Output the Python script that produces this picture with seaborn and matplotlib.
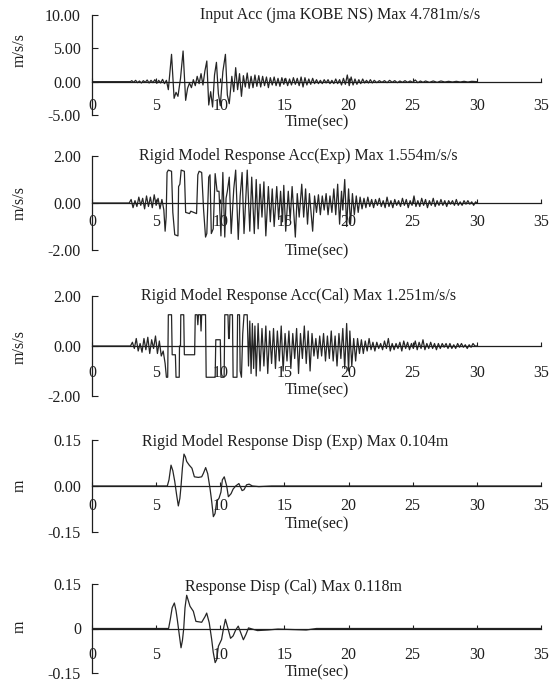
import numpy as np
import matplotlib
matplotlib.use("Agg")
import matplotlib.pyplot as plt
import seaborn as sns

# ---- data ----
# Input Acc (jma KOBE NS), m/s/s
t_in = [0.0, 3.0, 3.1, 3.25, 3.4, 3.55, 3.7, 3.85, 4.0, 4.15, 4.3, 4.45, 4.6, 4.75, 4.9, 5.05,
        5.2, 5.35, 5.5, 5.65, 5.8, 5.95, 6.2, 6.4, 6.55, 6.7, 6.9, 7.1, 7.3, 7.45, 7.6, 7.75,
        7.9, 8.05, 8.2, 8.35, 8.5, 8.65, 8.8, 8.95, 9.1, 9.25, 9.4, 9.55, 9.7, 9.85, 10.0, 10.2,
        10.4, 10.55, 10.7, 10.9, 11.05, 11.2, 11.35, 11.5, 11.65, 11.8, 11.95, 12.1, 12.25, 12.4,
        12.55, 12.7, 12.85, 13.0, 13.15, 13.3, 13.45, 13.6, 13.75, 13.9, 14.05, 14.2, 14.35, 14.5,
        14.65, 14.8, 14.95, 15.1, 15.25, 15.4, 15.55, 15.7, 15.85, 16.0, 16.15, 16.3, 16.45, 16.6,
        16.75, 16.9, 17.05, 17.2, 17.35, 17.5, 17.65, 17.8, 17.95, 18.1, 18.25, 18.4, 18.55, 18.7,
        18.85, 19.0, 19.15, 19.3, 19.45, 19.6, 19.75, 19.9, 20.05, 20.2, 20.35, 20.5, 20.65, 20.8,
        20.95, 21.1, 21.25, 21.4, 21.55, 21.7, 21.85, 22.0, 22.2, 22.4, 22.6, 22.8, 23.0, 23.2,
        23.4, 23.6, 23.8, 24.0, 24.2, 24.4, 24.6, 24.8, 25.0, 25.2, 25.4, 25.6, 25.8, 26.0, 26.3,
        26.6, 26.9, 27.2, 27.5, 27.8, 28.1, 28.4, 28.7, 29.0, 29.3, 29.6, 29.9, 30.0]
a_in = [0.0, 0.0, 0.15, -0.1, 0.2, -0.15, 0.1, -0.2, 0.15, -0.1, 0.25, -0.2, 0.2, -0.15, 0.3, -0.25,
        0.2, -0.2, 0.35, -0.3, 0.2, -1.2, 4.1, -2.5, -1.6, -2.2, 0.5, 4.6, -2.8, -1.0, -0.2, -0.9,
        0.3, -0.6, 0.8, -0.3, 1.2, -0.5, 1.6, 3.1, -3.5, -1.5, -3.8, 1.0, 2.9, -1.8, -3.6, 1.5,
        4.1, -2.0, -3.3, 0.8, -1.5, 2.1, -1.2, 1.2, -2.2, 0.9, -0.8, 1.3, -1.0, 0.8,
        -0.9, 1.0, -0.7, 0.9, -0.8, 0.8, -0.6, 0.7, -0.9, 0.6, -0.5, 0.7, -0.6, 0.5,
        -0.7, 0.6, -0.4, 0.5, -0.6, 0.4, -0.5, 0.6, -0.4, 0.5, -0.6, 0.7, -0.8, 0.6,
        -0.5, 0.4, -0.4, 0.5, -0.3, 0.3, -0.3, 0.2, -0.3, 0.3, -0.2, 0.3, -0.3, 0.2,
        -0.3, 0.4, -0.3, 0.3, -0.5, 0.5, -0.4, 1.0, -0.6, 0.7, -0.5, 0.4, -0.4, 0.3,
        -0.3, 0.4, -0.2, 0.2, -0.2, 0.3, -0.2, 0.2, -0.15, 0.15, -0.1, 0.15, -0.15, 0.2,
        -0.1, 0.15, -0.15, 0.1, -0.1, 0.15, -0.1, 0.1, -0.1, 0.25, -0.15, 0.1, -0.1, 0.1, -0.1,
        0.1, -0.1, 0.1, -0.05, 0.05, -0.05, 0.05, -0.05, 0.05, -0.05, 0.05, 0.0, 0.0]

# Rigid Model Response Acc (Exp), m/s/s
t_exp = [0.0, 2.9, 3.05, 3.2, 3.35, 3.5, 3.65, 3.8, 3.95, 4.1, 4.25, 4.4, 4.55, 4.7, 4.85, 5.0,
         5.15, 5.3, 5.45, 5.6, 5.7, 5.78, 5.85, 5.95, 6.2, 6.3, 6.45, 6.7, 6.75, 6.85, 6.95, 7.2,
         7.3, 7.6, 7.7, 8.15, 8.25, 8.35, 8.55, 8.7, 8.85, 8.95, 9.1, 9.2, 9.3, 9.45, 9.6, 9.75,
         9.9, 10.05, 10.2, 10.35, 10.45, 10.55, 10.7, 10.85, 11.05, 11.2, 11.4, 11.55, 11.7, 11.85,
         12.1, 12.3, 12.45, 12.65, 12.8, 12.95, 13.1, 13.25, 13.4, 13.55, 13.75, 13.9, 14.05, 14.2,
         14.4, 14.55, 14.7, 14.85, 14.95, 15.1, 15.3, 15.45, 15.6, 15.85, 16.0, 16.15, 16.35, 16.5,
         16.65, 16.8, 16.95, 17.2, 17.35, 17.5, 17.65, 17.8, 17.95, 18.1, 18.25, 18.4, 18.55, 18.7,
         18.85, 19.0, 19.15, 19.3, 19.45, 19.55, 19.7, 19.85, 20.0, 20.15, 20.3, 20.45, 20.6, 20.75,
         20.9, 21.05, 21.2, 21.35, 21.5, 21.65, 21.8, 21.95, 22.1, 22.25, 22.4, 22.55, 22.7, 22.85,
         23.0, 23.15, 23.3, 23.45, 23.6, 23.75, 23.9, 24.05, 24.2, 24.35, 24.5, 24.65, 24.8, 24.95,
         25.1, 25.25, 25.4, 25.55, 25.7, 25.85, 26.0, 26.15, 26.3, 26.45, 26.6, 26.75, 26.9, 27.05,
         27.2, 27.35, 27.5, 27.65, 27.8, 27.95, 28.1, 28.25, 28.4, 28.55, 28.7, 28.85, 29.0, 29.15,
         29.3, 29.45, 29.6, 29.75, 29.9, 30.0]
a_exp = [0.0, 0.0, 0.15, -0.2, 0.1, -0.15, 0.25, -0.1, 0.2, -0.25, 0.3, -0.15, 0.25, -0.2, 0.35, -0.1,
         0.2, -0.25, 0.15, -0.3, -1.2, -0.6, 1.3, 1.4, 1.35, -0.4, -1.35, -1.4, 0.7, 0.8, 1.4, 1.35,
         -0.4, -0.45, -0.35, -0.45, 1.2, 1.35, 1.3, -0.3, -1.45, -1.3, 1.1, 1.2, -1.3, -1.1, 1.25, 0.5,
         0.5, -1.4, 1.3, -1.45, 0.2, 0.5, 1.1, -1.3, 0.6, 1.4, -1.55, 0.3, 1.3, -1.3,
         1.4, -1.2, 1.1, -1.3, 1.0, -1.1, 0.8, -0.6, 0.9, -1.4, 0.7, -0.8, 0.6, -1.0,
         0.7, -0.7, 0.5, -0.8, 0.75, -1.2, 0.5, -0.7, 0.7, -1.45, 0.4, -0.6, 0.8, -0.6,
         0.6, -0.9, 0.4, -1.2, 0.3, -0.4, 0.35, -0.5, 0.3, -0.3, 0.4, -0.5, 0.3, -0.4,
         0.6, -0.5, 0.8, -0.9, 0.5, -0.3, 1.0, -1.0, 0.6, -0.9, 0.4, -0.5, 0.3, -0.4,
         0.25, -0.25, 0.2, -0.2, 0.25, -0.15, 0.15, -0.2, 0.15, -0.1, 0.2, -0.15, 0.1, -0.2,
         0.25, -0.15, 0.1, -0.2, 0.15, -0.1, 0.1, -0.15, 0.2, -0.1, 0.15, -0.2, 0.1, -0.1,
         0.3, -0.15, 0.1, -0.15, 0.2, -0.1, 0.15, -0.2, 0.1, -0.1, 0.2, -0.15, 0.1, -0.1,
         0.15, -0.1, 0.1, -0.15, 0.1, -0.05, 0.1, -0.1, 0.15, -0.1, 0.05, -0.1, 0.1, -0.05,
         0.1, -0.05, 0.05, -0.1, 0.05, 0.0]

# Rigid Model Response Acc (Cal), m/s/s
t_cal = [0.0, 3.0, 3.15, 3.3, 3.45, 3.6, 3.75, 3.9, 4.05, 4.2, 4.35, 4.5, 4.65, 4.8, 4.95, 5.1,
         5.25, 5.4, 5.55, 5.7, 5.8, 5.9, 5.95, 6.2, 6.25, 6.5, 6.55, 6.8, 6.82, 6.9, 6.92, 7.15,
         7.2, 8.0, 8.05, 8.2, 8.25, 8.3, 8.45, 8.5, 8.55, 8.85, 8.9, 9.6, 9.65, 10.0, 10.05, 10.3,
         10.35, 10.6, 10.65, 10.7, 10.75, 10.95, 11.0, 11.3, 11.35, 11.5, 11.55, 11.65, 11.75, 11.85,
         12.1, 12.2, 12.3, 12.4, 12.5, 12.6, 12.7, 12.8, 12.95, 13.1, 13.25, 13.4, 13.55, 13.7,
         13.85, 14.0, 14.15, 14.3, 14.45, 14.6, 14.75, 14.9, 15.05, 15.2, 15.35, 15.5, 15.65, 15.8,
         15.95, 16.1, 16.25, 16.4, 16.55, 16.7, 16.85, 17.0, 17.15, 17.3, 17.45, 17.6, 17.75, 17.9,
         18.05, 18.2, 18.35, 18.5, 18.65, 18.8, 18.95, 19.1, 19.25, 19.4, 19.55, 19.7, 19.85, 20.0,
         20.1, 20.25, 20.4, 20.55, 20.7, 20.85, 21.0, 21.15, 21.3, 21.45, 21.6, 21.75, 21.9, 22.05,
         22.2, 22.35, 22.5, 22.65, 22.8, 22.95, 23.1, 23.25, 23.4, 23.55, 23.7, 23.85, 24.0, 24.15,
         24.3, 24.45, 24.6, 24.75, 24.9, 25.05, 25.2, 25.35, 25.5, 25.65, 25.8, 25.95, 26.1, 26.25,
         26.4, 26.55, 26.7, 26.85, 27.0, 27.15, 27.3, 27.45, 27.6, 27.75, 27.9, 28.05, 28.2, 28.35,
         28.5, 28.65, 28.8, 28.95, 29.1, 29.25, 29.4, 29.55, 29.7, 29.85, 30.0]
a_cal = [0.0, 0.0, 0.15, -0.1, 0.3, -0.2, 0.1, -0.25, 0.3, -0.15, 0.35, -0.3, 0.25, -0.1, 0.4, -0.3,
         0.2, -0.4, -0.2, -0.7, -1.25, -1.25, 1.25, 1.25, -0.35, -0.35, -1.25, -1.25, 0.0, 0.0, 1.25, 1.25,
         -0.35, -0.35, 1.25, 1.25, 0.85, 1.25, 1.25, 0.6, 1.25, 1.25, -1.25, -1.25, 0.25, 0.25, -1.25, -1.25,
         1.25, 1.25, 0.3, 0.3, 1.25, 1.25, -1.25, -1.25, 1.25, 1.25, -1.0, -1.25, 0.5, 1.25,
         1.25, -0.8, 1.0, -1.1, 0.9, -0.9, 0.8, -1.2, 0.9, -1.0, 0.7, -0.8, 0.8, -1.1,
         0.6, -0.7, 0.7, -0.9, 0.6, -0.6, 0.8, -1.0, 0.5, -0.6, 0.6, -0.9, 0.5, -0.5,
         0.7, -1.1, 0.5, -0.5, 0.8, -0.7, 0.6, -1.0, 0.5, -0.4, 0.3, -0.5, 0.4, -0.4,
         0.5, -0.6, 0.4, -0.5, 0.6, -0.6, 0.4, -0.8, 0.5, -0.5, 0.7, -0.9, 0.9, -1.0,
         0.6, -0.8, 0.3, -0.6, 0.3, -0.3, 0.25, -0.3, 0.2, -0.2, 0.3, -0.15, 0.15, -0.2,
         0.15, -0.1, 0.1, -0.15, 0.2, -0.1, 0.3, -0.2, 0.1, -0.15, 0.1, -0.1, 0.15, -0.2,
         0.2, -0.1, 0.15, -0.15, 0.1, -0.1, 0.2, -0.15, 0.15, -0.1, 0.25, -0.15, 0.1, -0.1,
         0.15, -0.1, 0.1, -0.15, 0.1, -0.1, 0.1, -0.05, 0.1, -0.1, 0.1, -0.1, 0.05, -0.1,
         0.1, -0.05, 0.1, -0.05, 0.05, -0.1, 0.05, -0.05, 0.1, 0.0, 0.0]

# Rigid Model Response Disp (Exp), m
t_dexp = [0.0, 5.87, 6.0, 6.16, 6.3, 6.45, 6.6, 6.73, 6.85, 6.94, 7.05, 7.17, 7.28, 7.38, 7.58,
          7.79, 7.98, 8.29, 8.55, 8.68, 8.86, 9.02, 9.2, 9.33, 9.46, 9.59, 9.72, 9.9, 10.05, 10.16,
          10.31, 10.5, 10.63, 10.84, 11.0, 11.2, 11.45, 11.7, 11.85, 12.05, 12.25, 12.5, 13.0, 14.0, 35.0]
d_exp = [0.0, 0.0, 0.02, 0.068, 0.05, 0.015, -0.03, -0.065, -0.04, 0.0, 0.06, 0.104, 0.095, 0.08, 0.068,
         0.058, 0.03, 0.028, 0.03, 0.041, 0.06, 0.04, -0.008, -0.05, -0.1, -0.09, -0.05, -0.04, -0.02, 0.02,
         0.03, 0.0, -0.035, -0.025, -0.01, 0.0, 0.008, -0.015, -0.012, 0.004, 0.006, 0.0, -0.002, 0.0, 0.0]

# Response Disp (Cal), m
t_dcal = [0.0, 5.97, 6.1, 6.25, 6.42, 6.55, 6.65, 6.8, 6.94, 7.05, 7.15, 7.25, 7.38, 7.5, 7.64,
          7.9, 8.1, 8.55, 8.81, 8.94, 9.14, 9.33, 9.45, 9.6, 9.72, 9.85, 10.1, 10.25, 10.4, 10.6,
          10.8, 11.0, 11.2, 11.4, 11.6, 11.8, 12.0, 12.2, 12.5, 12.9, 13.7, 14.5, 16.7, 17.5, 35.0]
d_cal = [0.0, 0.0, 0.03, 0.07, 0.086, 0.06, 0.03, -0.02, -0.065, -0.04, 0.0, 0.07, 0.112, 0.095, 0.075,
         0.058, 0.024, 0.021, 0.04, 0.052, 0.019, -0.037, -0.08, -0.115, -0.105, -0.06, -0.037, 0.0, 0.031, 0.0,
         -0.033, -0.025, -0.005, 0.008, -0.015, -0.038, -0.02, 0.002, -0.002, -0.007, -0.005, -0.002, -0.005, 0.0, 0.0]

titles = ["Input Acc (jma KOBE NS) Max 4.781m/s/s",
          "Rigid Model Response Acc(Exp) Max 1.554m/s/s",
          "Rigid Model Response Acc(Cal) Max 1.251m/s/s",
          "Rigid Model Response Disp (Exp) Max 0.104m",
          "Response Disp (Cal) Max 0.118m"]
units = ["m/s/s", "m/s/s", "m/s/s", "m", "m"]
yticks = [[-5, 0, 5, 10], [-2, 0, 2], [-2, 0, 2], [-0.15, 0, 0.15], [-0.15, 0, 0.15]]
ylabels = [["-5.00", "0.00", "5.00", "10.00"], ["-2.00", "0.00", "2.00"], ["-2.00", "0.00", "2.00"],
           ["-0.15", "0.00", "0.15"], ["-0.15", "0", "0.15"]]
xticks = [0, 5, 10, 15, 20, 25, 30, 35]
series = [(t_in, a_in), (t_exp, a_exp), (t_cal, a_cal), (t_dexp, d_exp), (t_dcal, d_cal)]

sns.set_theme(style="white")
plt.rcParams["font.family"] = ["Liberation Serif", "DejaVu Serif"]

fig = plt.figure(figsize=(5.53, 6.84), dpi=100)

# axes boxes in pixels (top, bottom) of the scan
boxes = [(15, 115), (156, 250), (296, 396), (440, 532), (584, 673)]
xpad = [12, 8, 13.5, 9, 13]
xlab_y = [-0.07, -0.01, 0.06, 0.087, 0.011]
ylab_y = [0.65, 0.5, 0.49, 0.5, 0.52]
title_pos = [(0.553, 1.0), (0.459, 1.0), (0.459, 1.0), (0.453, 0.98), (0.449, 0.97)]

W, H = 553, 684
ink = "#1e1e1e"
for i, (t, v) in enumerate(series):
    top, bot = boxes[i]
    ax = fig.add_axes([92 / W, 1 - bot / H, 449 / W, (bot - top) / H])
    sns.lineplot(x=t, y=v, ax=ax, color="#262626", linewidth=0.9, estimator=None, sort=False)
    ax.set_xlim(0, 35)
    ax.set_ylim(yticks[i][0], yticks[i][-1])
    ax.set_yticks(yticks[i])
    ax.set_yticklabels(ylabels[i])
    ax.set_xticks(xticks)
    ax.set_xticklabels([str(x) for x in xticks])
    for s in ["top", "right"]:
        ax.spines[s].set_visible(False)
    ax.spines["bottom"].set_position(("data", 0))
    for s in ["left", "bottom"]:
        ax.spines[s].set_color(ink)
        ax.spines[s].set_linewidth(0.9)
    ax.tick_params(axis="y", direction="in", length=4, width=0.8, color=ink,
                   labelsize=11.5, pad=8, labelcolor=ink, left=True)
    ax.tick_params(axis="x", direction="in", length=3, width=0.8, color=ink,
                   labelsize=11.5, pad=xpad[i], labelcolor=ink, bottom=True)
    ax.set_xlabel("Time(sec)", fontsize=11.5, color=ink, va="center")
    ax.xaxis.set_label_coords(0.5, xlab_y[i])
    ax.set_ylabel(units[i], fontsize=11.5, color=ink, va="center")
    ax.yaxis.set_label_coords(-0.162, ylab_y[i])
    ax.text(title_pos[i][0], title_pos[i][1], titles[i], transform=ax.transAxes,
            ha="center", va="center", fontsize=11.5, color=ink)
    ax.set_facecolor("white")

fig.savefig("out.png", dpi=100, facecolor="white")
